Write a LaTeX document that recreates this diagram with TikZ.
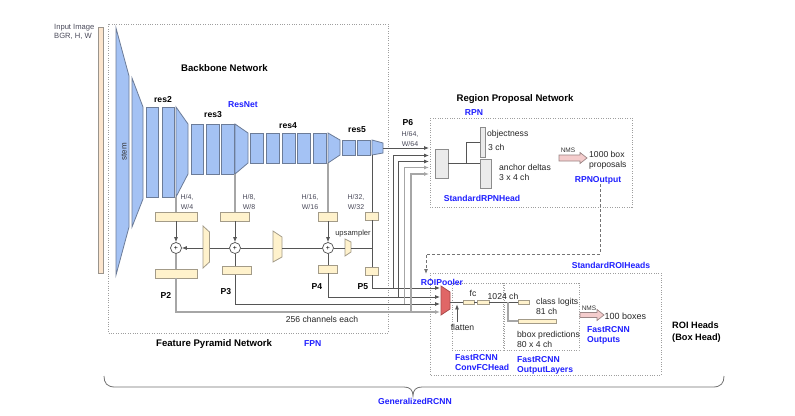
\documentclass[tikz,border=0pt]{standalone}
\usepackage{fontspec}
\setmainfont{Liberation Sans}
\usetikzlibrary{arrows.meta}
\definecolor{bbfill}{HTML}{A4C2F4}
\definecolor{bbdraw}{HTML}{6C7C98}
\definecolor{latfill}{HTML}{FFF2CC}
\definecolor{latdraw}{HTML}{A39B88}
\definecolor{inpfill}{HTML}{FCE5CD}
\definecolor{inpdraw}{HTML}{9A948C}
\definecolor{roifill}{HTML}{E06666}
\definecolor{roidraw}{HTML}{A94A4A}
\definecolor{nmsfill}{HTML}{F4CCCC}
\definecolor{nmsdraw}{HTML}{9A8585}
\definecolor{hdfill}{HTML}{EBEBEB}
\definecolor{hddraw}{HTML}{8C8C8C}
\definecolor{lkc}{HTML}{555555}
\definecolor{lklc}{HTML}{A6A6A6}
\definecolor{blc}{HTML}{1F1FFF}
\definecolor{dotc}{HTML}{9E9E9E}
\definecolor{smc}{HTML}{4A4A5A}
\tikzset{
  bb/.style={draw=bbdraw,fill=bbfill,line width=0.8pt,inner sep=0pt,minimum width=13pt},
  lat/.style={draw=latdraw,fill=latfill,line width=0.8pt,inner sep=0pt},
  hd/.style={draw=hddraw,fill=hdfill,line width=0.8pt,inner sep=0pt},
  lk/.style={draw=lkc,line width=0.8pt},
  lkl/.style={draw=lklc,line width=1.1pt},
  arr/.style={-{Latex[length=5pt,width=4pt]}},
  dotbox/.style={draw=dotc,line width=0.7pt,dash pattern=on 0.8pt off 1.6pt},
  ttl/.style={font=\fontsize{9.6}{11}\selectfont\bfseries,inner sep=0pt},
  bld/.style={font=\fontsize{8.6}{10}\selectfont\bfseries,inner sep=0pt},
  txt/.style={font=\fontsize{8.6}{10}\selectfont,inner sep=0pt,text=black!85,align=left},
  blu/.style={font=\fontsize{8.6}{10}\selectfont\bfseries,text=blc,inner sep=0pt,align=left},
  sml/.style={font=\fontsize{7}{10}\selectfont,text=smc,inner sep=0pt,align=center},
  addnode/.style={circle,draw=black!70,fill=white,line width=0.7pt,minimum size=11pt,inner sep=0pt,font=\fontsize{7}{7}\selectfont},
  nmsarrow/.style={draw=nmsdraw,fill=nmsfill,line width=0.7pt},
}
\begin{document}
\begin{tikzpicture}[x=1pt,y=-1pt]
\fill[white] (0,0) rectangle (795,415);
\useasboundingbox (0,0) rectangle (795,415);

% ---------- containers ----------
\draw[dotbox] (108,24) rectangle (388,333);
\draw[dotbox] (430,118) rectangle (632,207);
\draw[dotbox] (430,273) rectangle (661,375);
\draw[dotbox] (452,283) rectangle (503,350);
\draw[dotbox] (504,283) rectangle (579,350);

% ---------- input ----------
\node[draw=inpdraw,fill=inpfill,line width=0.8pt,inner sep=0pt,minimum width=5pt,minimum height=246pt] (inp) at (100.5,150) {};
\node[font=\fontsize{7.6}{9}\selectfont,text=smc,align=left,inner sep=0pt,anchor=west] (inptxt) at (54,31.5) {Input Image\\BGR, H, W};

% ---------- backbone ----------
\filldraw[bb] (116,28)--(129,76)--(129,227)--(116,275)--cycle;
\filldraw[bb] (132,78)--(143,107)--(143,199)--(132,227)--cycle;
\node[font=\fontsize{8}{9}\selectfont,rotate=90,inner sep=0pt,text=black!80] (stemlbl) at (124,152) {stem};

\node[bb,minimum width=12pt,minimum height=90pt] (r2a) at (152,152) {};
\node[bb,minimum width=12pt,minimum height=90pt] (r2b) at (168,152) {};
\filldraw[bb] (176,107)--(188,124)--(188,174)--(176,197)--cycle;
\coordinate (t2bl) at (176,197);

\node[bb,minimum width=12pt,minimum height=50pt] (r3a) at (197,149) {};
\node[bb,minimum height=50pt] (r3b) at (212.5,149) {};
\node[bb,minimum height=50pt] (r3c) at (227.5,149) {};
\filldraw[bb] (235,124)--(248,133)--(248,163)--(235,174)--cycle;
\coordinate (t3bl) at (235,174);

\node[bb,minimum height=30pt] (r4a) at (256.5,148) {};
\node[bb,minimum height=30pt] (r4b) at (272.5,148) {};
\node[bb,minimum height=30pt] (r4c) at (288.5,148) {};
\node[bb,minimum height=30pt] (r4d) at (304,148) {};
\node[bb,minimum height=30pt] (r4e) at (319.5,148) {};
\filldraw[bb] (328,133)--(340,140)--(340,155)--(328,163)--cycle;
\coordinate (t4bl) at (328,163);

\node[bb,minimum height=15pt] (r5a) at (348.5,147.5) {};
\node[bb,minimum height=15pt] (r5b) at (363.5,147.5) {};
\filldraw[bb] (372,140)--(383,143)--(383,153)--(372,155)--cycle;
\coordinate (t5bl) at (372,155);
\coordinate (t5r) at (383,148);

\node[bld] (res2) at (163,100) {res2};
\node[bld] (res3) at (213,115) {res3};
\node[bld] (res4) at (288,126) {res4};
\node[bld] (res5) at (357,130) {res5};
\node[blu] (resnet) at (243,105) {ResNet};
\node[ttl,anchor=west] (bbt) at (181,68) {Backbone Network};

% ---------- FPN ----------
\node[lat,minimum width=42pt,minimum height=9pt] (p2up) at (176,216.5) {};
\node[lat,minimum width=29pt,minimum height=9pt] (p3up) at (235,216.5) {};
\node[lat,minimum width=19pt,minimum height=9pt] (p4up) at (328,216.5) {};
\node[lat,minimum width=13pt,minimum height=8pt] (p5up) at (372,216) {};

\node[sml] (h4) at (187,202) {H/4,\\W/4};
\node[sml] (h8) at (249,202) {H/8,\\W/8};
\node[sml] (h16) at (310,202) {H/16,\\W/16};
\node[sml] (h32) at (356,202) {H/32,\\W/32};

\draw[lkl] (t2bl) -- (t2bl |- p2up.north);
\draw[lkl] (t3bl) -- (t3bl |- p3up.north);
\draw[lkl] (t4bl) -- (t4bl |- p4up.north);
\draw[lk] (t5bl) -- (t5bl |- p5up.north);

\node[addnode] (plus2) at (176,248) {+};
\node[addnode] (plus3) at (235,248) {+};
\node[addnode] (plus4) at (328,248) {+};

\node[lat,minimum width=42pt,minimum height=9pt] (p2lo) at (176,273.5) {};
\node[lat,minimum width=29pt,minimum height=8pt] (p3lo) at (236.5,270.5) {};
\node[lat,minimum width=19pt,minimum height=8pt] (p4lo) at (328,269) {};
\node[lat,minimum width=13pt,minimum height=8pt] (p5lo) at (372,271) {};

% upsamplers
\filldraw[lat] (203,226)--(209.5,232)--(209.5,262)--(203,268)--cycle;
\coordinate (u2l) at (203,248); \coordinate (u2r) at (209.5,248);
\filldraw[lat] (273,231)--(282,237)--(282,257)--(273,262)--cycle;
\coordinate (u3l) at (273,248); \coordinate (u3r) at (282,248);
\filldraw[lat] (345,239)--(351,242)--(351,252)--(345,256)--cycle;
\coordinate (u4l) at (345,248); \coordinate (u4r) at (351,248);
\coordinate (j5) at (372,248);
\node[font=\fontsize{7.6}{9}\selectfont,text=black!80,inner sep=0pt] (upl) at (353,234) {upsampler};

\draw[lk,arr] (p2up.south) -- (plus2.north);
\draw[lk,arr] (p3up.south) -- (plus3.north);
\draw[lk,arr] (p4up.south) -- (plus4.north);
\draw[lk] (p5up.south) -- (p5lo.north);

\draw[lk] (plus3.west) -- (u2r);
\draw[lk,arr] (u2l) -- (plus2.east);
\draw[lk] (plus4.west) -- (u3r);
\draw[lk] (u3l) -- (plus3.east);
\draw[lk] (plus4.east) -- (u4l);
\draw[lk] (u4r) -- (j5);

\draw[lkl] (plus2.south) -- (p2lo.north);
\draw[lk] (plus3.south) -- (plus3.south |- p3lo.north);
\draw[lk] (plus4.south) -- (p4lo.north);

\node[bld] (lp2) at (166,295) {P2};
\node[bld] (lp3) at (226,292) {P3};
\node[bld] (lp4) at (317,287) {P4};
\node[bld] (lp5) at (363,287) {P5};
\node[bld] (lp6) at (408,123) {P6};
\node[sml] (h64) at (410,138.5) {H/64,\\W/64};

\node[txt] (chan) at (322,319) {256 channels each};
\node[ttl,anchor=west] (fpnt) at (156,344) {Feature Pyramid Network};
\node[blu,anchor=west] (fpn) at (304,344) {FPN};

% ---------- connections to RPN and ROI pooler ----------
\coordinate (ri2) at (440,312);
\coordinate (ri3) at (440,304);
\coordinate (ri4) at (440,297);
\coordinate (ri5) at (440,288);
\coordinate (qi6) at (429,148);
\coordinate (qi5) at (429,155.5);
\coordinate (qi4) at (429,161.5);
\coordinate (qi3) at (429,167.5);
\coordinate (qi2) at (429,174);
\coordinate (j5b) at (393,288);
\coordinate (j4b) at (398.5,297);
\coordinate (j3b) at (404.5,304);
\coordinate (j2b) at (411,312);

\draw[lk,arr] (p5lo.south) |- (ri5);
\draw[lk,arr] (p4lo.south) |- (ri4);
\draw[lk,arr] (plus3.south |- p3lo.south) |- (ri3);
\draw[lkl,arr] (p2lo.south) |- (ri2);

\draw[lk,arr] (j5b) |- (qi5);
\draw[lk,arr] (j4b) |- (qi4);
\draw[lkl,arr] (j3b) |- (qi3);
\draw[lkl,arr] (j2b) |- (qi2);
\draw[lk,arr] (t5r) -- (qi6);

% ---------- RPN ----------
\node[ttl] (rpnt) at (515,99) {Region Proposal Network};
\node[blu] (rpn) at (474,113) {RPN};
\node[hd,minimum width=13pt,minimum height=29pt] (rpnhead) at (441.5,163.5) {};
\node[hd,minimum width=5pt,minimum height=30pt] (obj) at (482.5,142) {};
\node[hd,minimum width=11pt,minimum height=29pt] (dlt) at (485.5,173.5) {};
\coordinate (hj) at (466,163.5);
\draw[lk] (rpnhead.east) -- (rpnhead.east -| dlt.west);
\draw[lk] (hj) |- (obj.west);
\node[txt,anchor=west] (objt) at (487,134) {objectness};
\node[txt,anchor=west] (objc) at (488,147) {3 ch};
\node[txt,anchor=west] (dltt) at (499,172) {anchor deltas\\3 x 4 ch};
\node[blu] (rpnheadt) at (482,198) {StandardRPNHead};

\filldraw[nmsarrow] (559,155)--(580,155)--(580,152.5)--(587,158)--(580,163.5)--(580,161)--(559,161)--cycle;
\node[font=\fontsize{6.5}{7}\selectfont,text=black!80,inner sep=0pt] (nms1) at (568,150) {NMS};
\node[txt,anchor=west] (props) at (589,160) {1000 box\\proposals};
\node[blu] (rpnout) at (598,180) {RPNOutput};

\coordinate (dqm) at (426,254);
\coordinate (dqb) at (426,274);
\draw[draw=black!55,line width=0.8pt,dash pattern=on 3pt off 2pt,arr] ([xshift=2pt]rpnout.south) |- (dqm) -- (dqb);

% ---------- ROI heads ----------
\node[blu] (roiheads) at (611,265) {StandardROIHeads};
\filldraw[draw=roidraw,fill=roifill,line width=0.8pt] (441,286)--(450,292)--(450,309)--(441,315)--cycle;
\coordinate (poolout) at (450,302);
\node[blu] (pooler) at (442,282) {ROIPooler};

\node[lat,minimum width=11pt,minimum height=4pt] (fc1) at (468.5,302) {};
\node[lat,minimum width=12pt,minimum height=4pt] (fc2) at (483,302) {};
\node[lat,minimum width=11pt,minimum height=4pt] (cls) at (523.5,302) {};
\node[lat,minimum width=38pt,minimum height=4pt] (bbx) at (537,321) {};
\coordinate (bj) at (508,302);
\coordinate (flt) at (457,322);

\draw[lk] (poolout) -- (fc1.west);
\draw[lk] (fc1.east) -- (fc2.west);
\draw[lk] (fc2.east) -- (cls.west);
\draw[lkl] (bj) |- (bbx.west);
\draw[lk,arr] (flt) -- (flt |- fc1.south);

\node[txt] (fct) at (473,293) {fc};
\node[txt] (ch1024) at (503,296) {1024 ch};
\node[txt] (flat) at (462.5,327) {flatten};
\node[txt,anchor=west] (clst) at (536,306) {class logits\\81 ch};
\node[txt,anchor=west] (bbxt) at (517,339) {bbox predictions\\80 x 4 ch};

\filldraw[nmsarrow] (580,312.5)--(597,312.5)--(597,309.5)--(604,315)--(597,320.5)--(597,317.5)--(580,317.5)--cycle;
\node[font=\fontsize{6.5}{7}\selectfont,text=black!80,inner sep=0pt] (nms2) at (589,308) {NMS};
\node[font=\fontsize{9}{10}\selectfont,text=black!85,inner sep=0pt,anchor=west] (boxes) at (604.5,316) {100 boxes};
\node[blu,anchor=west] (fro) at (587,335) {FastRCNN\\Outputs};
\node[blu,anchor=west] (fcv) at (455,363) {FastRCNN\\ConvFCHead};
\node[blu,anchor=west] (fol) at (517,365) {FastRCNN\\OutputLayers};
\node[font=\fontsize{9.2}{12}\selectfont\bfseries,inner sep=0pt,align=left,anchor=west] (roih) at (672,332) {ROI Heads\\(Box Head)};

% ---------- brace ----------
\draw[draw=black!55,line width=0.8pt] (104,376) .. controls (104,383) and (107,387) .. (115,387) -- (404,387) .. controls (410,387) and (413,390) .. (413,396) .. controls (413,390) and (416,387) .. (422,387) -- (713,387) .. controls (721,387) and (724,383) .. (724,376);
\node[blu] (grcnn) at (415,401) {GeneralizedRCNN};
\end{tikzpicture}
\end{document}
